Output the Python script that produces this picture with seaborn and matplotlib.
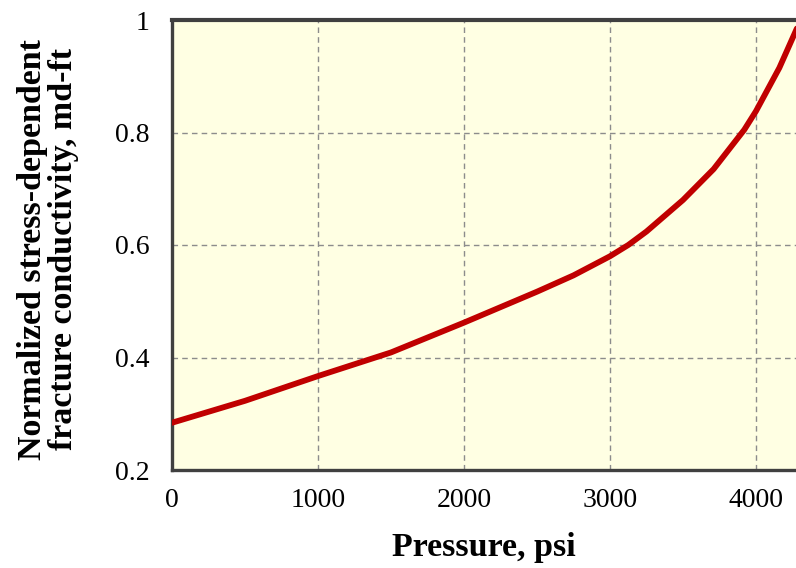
import matplotlib
matplotlib.use("Agg")
import matplotlib.pyplot as plt
import seaborn as sns
import pandas as pd

pressure = [0, 500, 1000, 1500, 2000, 2500, 2750, 3000, 3125, 3250, 3500,
            3710, 3920, 4000, 4160, 4280]
conductivity = [0.284, 0.323, 0.367, 0.409, 0.462, 0.517, 0.546, 0.580, 0.600,
                0.624, 0.680, 0.735, 0.805, 0.838, 0.915, 0.985]
x_ticks = [0, 1000, 2000, 3000, 4000]
y_ticks = [0.2, 0.4, 0.6, 0.8, 1.0]
y_tick_labels = ["0.2", "0.4", "0.6", "0.8", "1"]

sns.set_style("white")
plt.rcParams["font.family"] = ["Liberation Serif", "DejaVu Serif"]
plt.rcParams["text.color"] = "black"
plt.rcParams["axes.labelcolor"] = "black"
plt.rcParams["xtick.color"] = "black"
plt.rcParams["ytick.color"] = "black"

df = pd.DataFrame({"Pressure": pressure, "Conductivity": conductivity})

fig = plt.figure(figsize=(7.96, 5.68), dpi=100)
ax = fig.add_axes([172 / 796, 1 - 470 / 568, 1 - 172 / 796, (470 - 20) / 568])
ax.set_facecolor("#FFFFE3")

sns.lineplot(data=df, x="Pressure", y="Conductivity", ax=ax, color="#C00000",
             linewidth=4.2, zorder=3)
for ln in ax.get_lines():
    ln.set_solid_joinstyle("round")
    ln.set_solid_capstyle("round")

ax.set_xlim(0, 4274)
ax.set_ylim(0.2, 1.0)
ax.set_xticks(x_ticks)
ax.set_yticks(y_ticks)
ax.set_yticklabels(y_tick_labels)

ax.grid(True, color="#8C8C8C", linestyle=(0, (4, 3)), linewidth=1.0)
ax.set_axisbelow(True)

for side in ["top", "left", "bottom"]:
    ax.spines[side].set_visible(True)
    ax.spines[side].set_color("#404040")
    ax.spines[side].set_linewidth(2.4)
ax.spines["top"].set_linewidth(3.0)
ax.spines["right"].set_visible(False)

ax.tick_params(axis="both", which="major", labelsize=20, direction="out",
               length=7, width=1.0, color="#404040", labelcolor="black")
ax.tick_params(axis="x", pad=6)
ax.tick_params(axis="y", pad=9)

ax.set_xlabel("Pressure, psi", fontsize=24.5, fontweight="bold", color="black")
ax.xaxis.set_label_coords(0.5, -0.173)
ax.xaxis.label.set_va("center")

ax.set_ylabel("Normalized stress-dependent\nfracture conductivity, md-ft",
              fontsize=24.5, fontweight="bold", linespacing=1.0, color="black")
ax.yaxis.set_label_coords(-0.1995, 0.49)
ax.yaxis.label.set_va("center")

fig.savefig("out.png", dpi=100)
